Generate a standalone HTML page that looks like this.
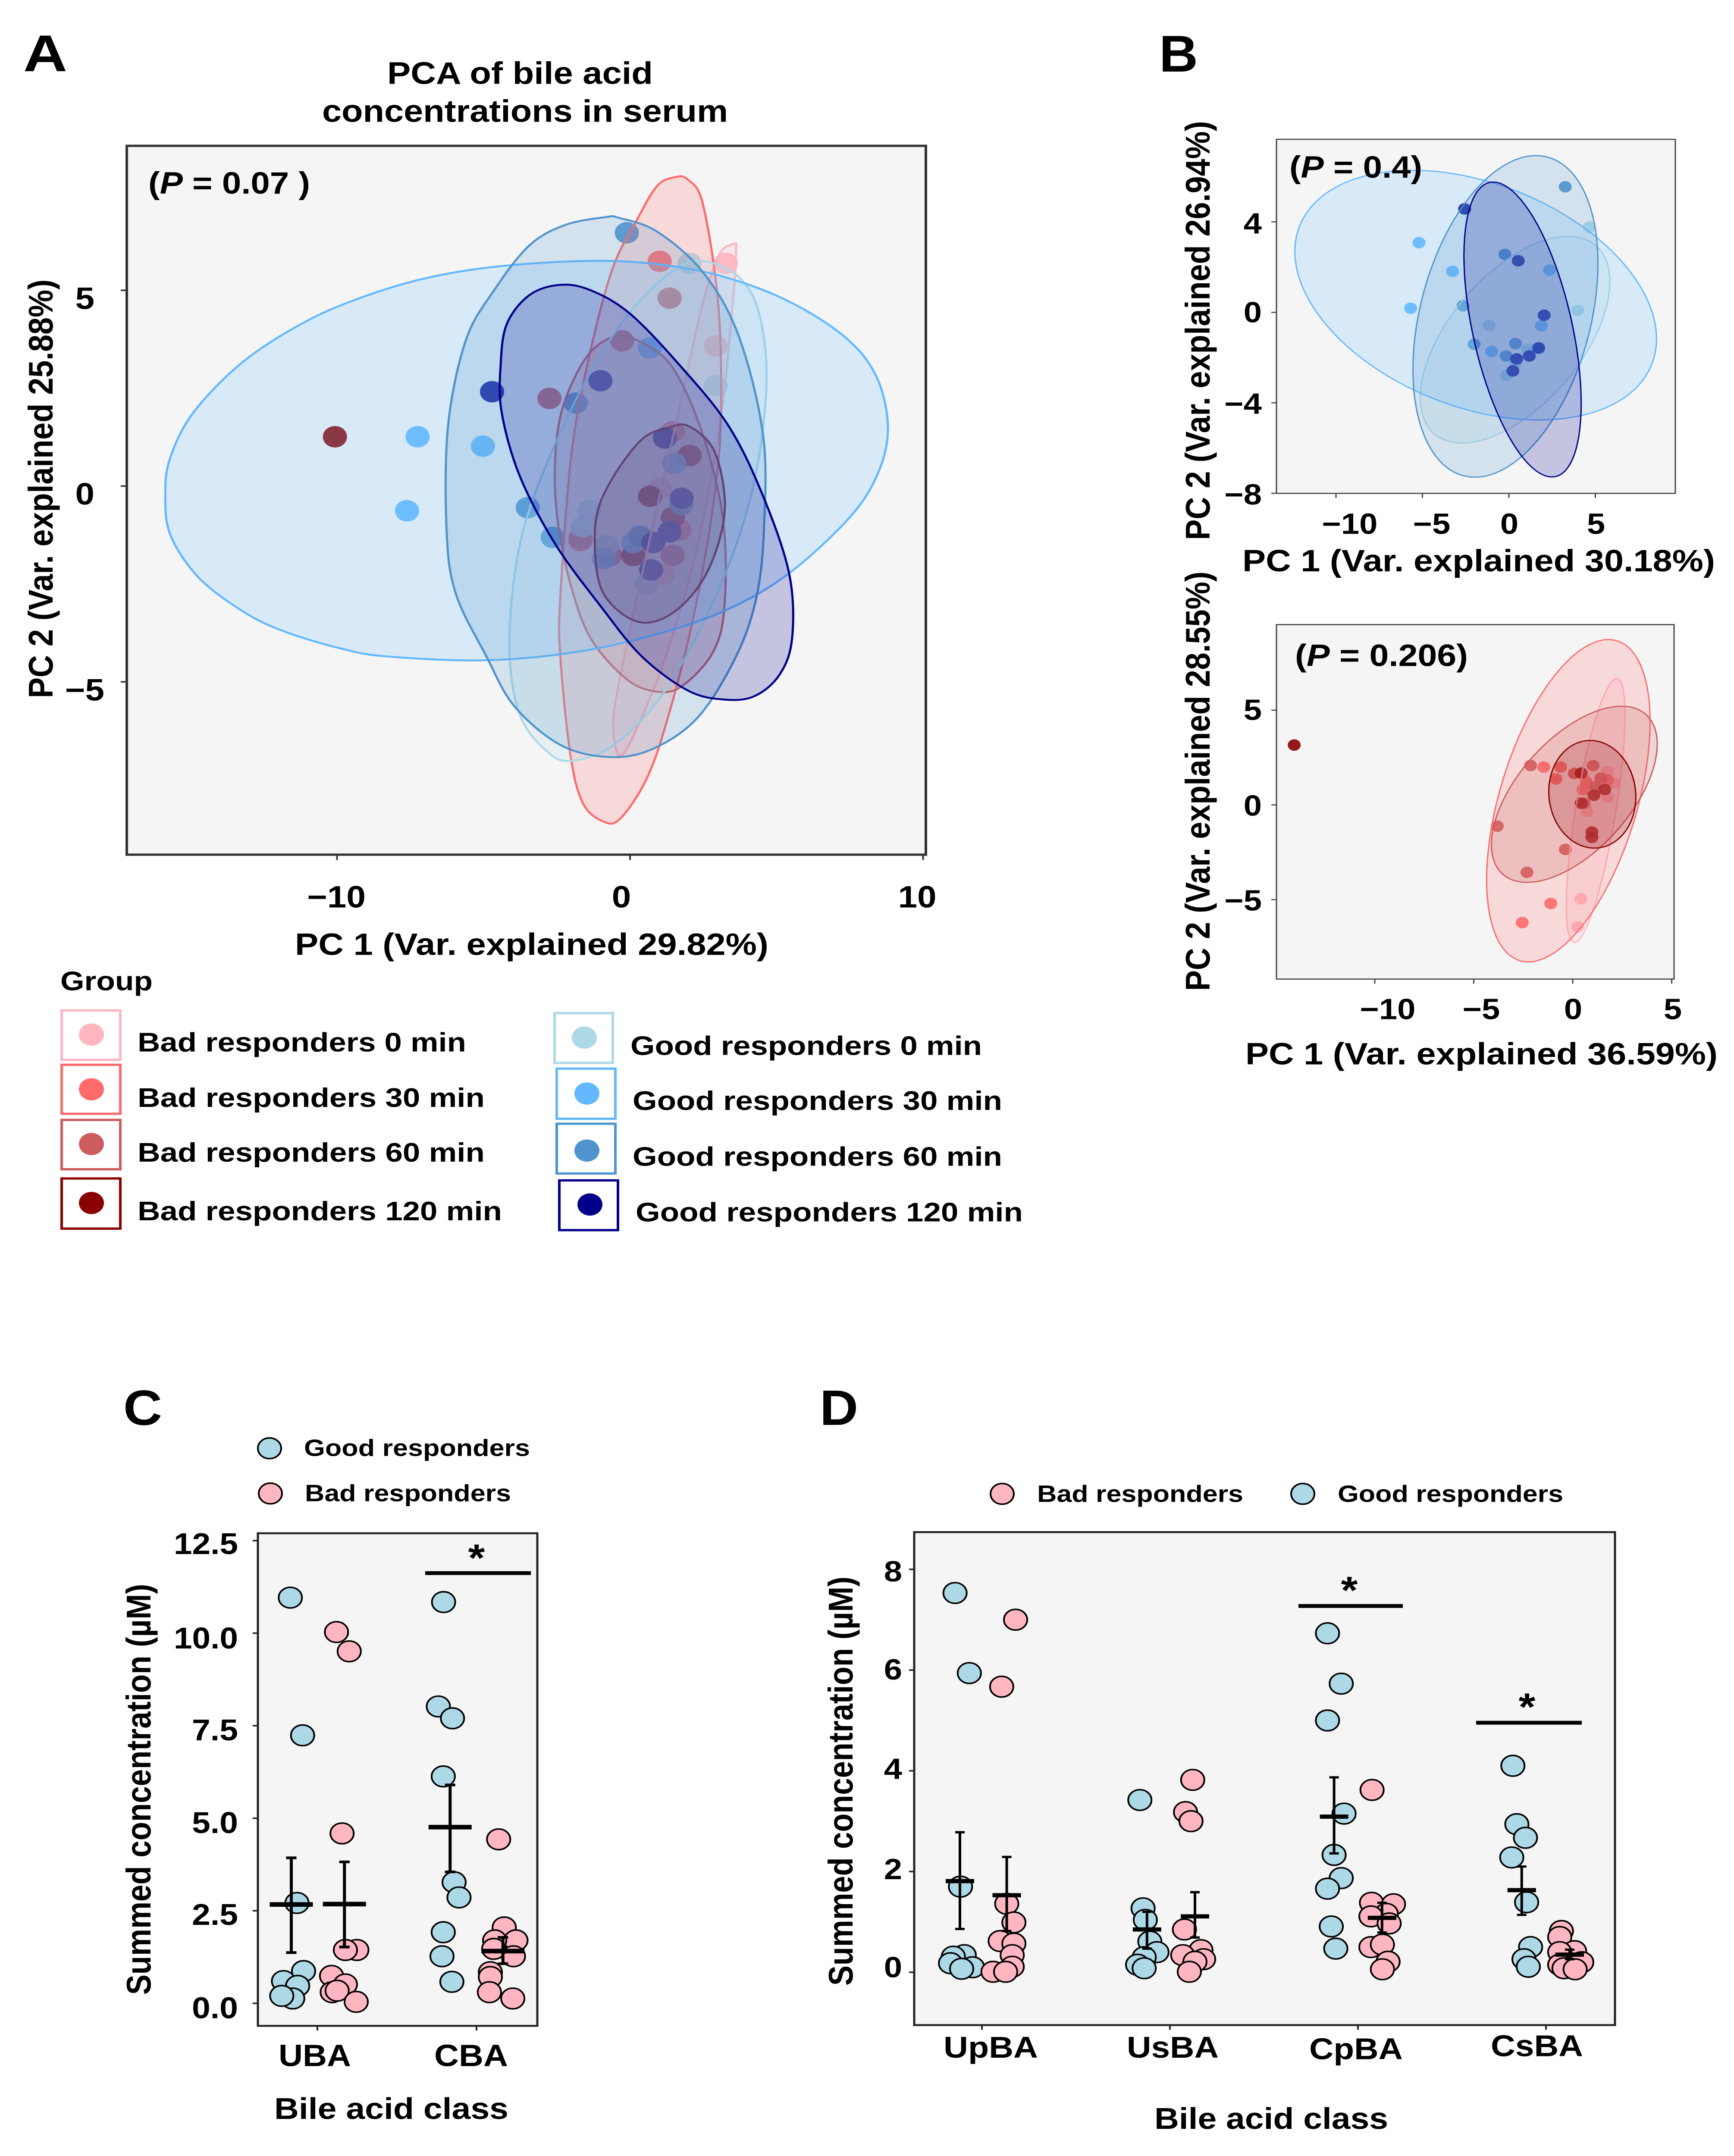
<!DOCTYPE html>
<html lang="en">
<head>
<meta charset="utf-8">
<title>PCA and summed bile acid concentrations</title>
<style>
html,body{margin:0;padding:0;background:#fff;width:100%;height:100%;overflow:hidden;}
svg{display:block;position:absolute;left:0;top:0;width:100vw;height:100vh;}
text{font-family:"Liberation Sans",sans-serif;font-weight:700;fill:#000;}
</style>
</head>
<body>
<svg id="fig" xmlns="http://www.w3.org/2000/svg" viewBox="0 0 4021 5633" preserveAspectRatio="none">
<rect x="0" y="0" width="4021" height="5633" fill="#fff"/>

<g id="panelA">
<text x="54" y="186" font-size="135" textLength="102" lengthAdjust="spacingAndGlyphs">A</text>
<text x="898" y="219" font-size="82" textLength="616" lengthAdjust="spacingAndGlyphs">PCA of bile acid</text>
<text x="747" y="318" font-size="82" textLength="941" lengthAdjust="spacingAndGlyphs">concentrations in serum</text>
<rect x="294" y="381" width="1853" height="1852" fill="#f5f5f5"/>
<g id="aMarks"></g>
<rect x="294" y="381" width="1853" height="1852" fill="none" stroke="#333" stroke-width="6"/>
<g id="aTicks"></g>
<text x="344" y="506" font-size="80" textLength="375" lengthAdjust="spacingAndGlyphs">(<tspan font-style="italic">P</tspan> = 0.07 )</text>
<text x="219" y="807" font-size="80" text-anchor="end">5</text>
<text x="219" y="1318" font-size="80" text-anchor="end">0</text>
<text x="242" y="1830" font-size="80" text-anchor="end">−5</text>
<text x="780" y="2371" font-size="80" text-anchor="middle">−10</text>
<text x="1441" y="2371" font-size="80" text-anchor="middle">0</text>
<text x="2127" y="2371" font-size="80" text-anchor="middle">10</text>
<text x="684" y="2495" font-size="80" textLength="1098" lengthAdjust="spacingAndGlyphs">PC 1 (Var. explained 29.82%)</text>
<text transform="translate(122,1824) rotate(-90)" font-size="80" textLength="1094" lengthAdjust="spacingAndGlyphs">PC 2 (Var. explained 25.88%)</text>
</g>

<g id="legendA">
<text x="140" y="2587" font-size="70" textLength="214" lengthAdjust="spacingAndGlyphs">Group</text>
<g>
<rect x="143" y="2640" width="136" height="129" fill="#fff" stroke="#ffb6c1" stroke-width="6"/>
<circle cx="212" cy="2703" r="29" fill="#ffb6c1"/>
<text x="319" y="2747" font-size="70" textLength="762" lengthAdjust="spacingAndGlyphs">Bad responders 0 min</text>
</g>
<g>
<rect x="143" y="2782" width="136" height="128" fill="#fff" stroke="#ff6a6a" stroke-width="6"/>
<circle cx="212" cy="2846" r="29" fill="#ff6a6a"/>
<text x="319" y="2892" font-size="70" textLength="805" lengthAdjust="spacingAndGlyphs">Bad responders 30 min</text>
</g>
<g>
<rect x="143" y="2926" width="136" height="129" fill="#fff" stroke="#cd5c5c" stroke-width="6"/>
<circle cx="212" cy="2989" r="29" fill="#cd5c5c"/>
<text x="319" y="3035" font-size="70" textLength="805" lengthAdjust="spacingAndGlyphs">Bad responders 60 min</text>
</g>
<g>
<rect x="143" y="3079" width="136" height="131" fill="#fff" stroke="#8b0000" stroke-width="6"/>
<circle cx="212" cy="3143" r="29" fill="#8b0000"/>
<text x="319" y="3188" font-size="70" textLength="845" lengthAdjust="spacingAndGlyphs">Bad responders 120 min</text>
</g>
<g>
<rect x="1286" y="2647" width="135" height="130" fill="#fff" stroke="#add8e6" stroke-width="6"/>
<circle cx="1355" cy="2711" r="29" fill="#add8e6"/>
<text x="1462" y="2756" font-size="70" textLength="815" lengthAdjust="spacingAndGlyphs">Good responders 0 min</text>
</g>
<g>
<rect x="1291" y="2792" width="136" height="131" fill="#fff" stroke="#63b8ff" stroke-width="6"/>
<circle cx="1361" cy="2857" r="29" fill="#63b8ff"/>
<text x="1467" y="2900" font-size="70" textLength="857" lengthAdjust="spacingAndGlyphs">Good responders 30 min</text>
</g>
<g>
<rect x="1291" y="2936" width="136" height="130" fill="#fff" stroke="#4f94cd" stroke-width="6"/>
<circle cx="1361" cy="3006" r="29" fill="#4f94cd"/>
<text x="1467" y="3046" font-size="70" textLength="857" lengthAdjust="spacingAndGlyphs">Good responders 60 min</text>
</g>
<g>
<rect x="1297" y="3084" width="136" height="130" fill="#fff" stroke="#00008b" stroke-width="6"/>
<circle cx="1368" cy="3147" r="29" fill="#00008b"/>
<text x="1474" y="3191" font-size="70" textLength="898" lengthAdjust="spacingAndGlyphs">Good responders 120 min</text>
</g>
</g>

<g id="panelB1">
<text x="2688" y="187" font-size="135" textLength="90" lengthAdjust="spacingAndGlyphs">B</text>
<rect x="2960" y="364" width="925" height="925" fill="#f5f5f5"/>
<g id="b1Marks"></g>
<rect x="2960" y="364" width="925" height="925" fill="none" stroke="#444" stroke-width="3"/>
<g id="b1Ticks"></g>
<text x="2990" y="464" font-size="80" textLength="308" lengthAdjust="spacingAndGlyphs">(<tspan font-style="italic">P</tspan> = 0.4)</text>
<text x="2926" y="610" font-size="76" text-anchor="end">4</text>
<text x="2926" y="842" font-size="76" text-anchor="end">0</text>
<text x="2926" y="1081" font-size="76" text-anchor="end">−4</text>
<text x="2926" y="1318" font-size="76" text-anchor="end">−8</text>
<text x="3130" y="1395" font-size="76" text-anchor="middle">−10</text>
<text x="3320" y="1395" font-size="76" text-anchor="middle">−5</text>
<text x="3500" y="1395" font-size="76" text-anchor="middle">0</text>
<text x="3701" y="1395" font-size="76" text-anchor="middle">5</text>
<text x="2881" y="1493" font-size="80" textLength="1096" lengthAdjust="spacingAndGlyphs">PC 1 (Var. explained 30.18%)</text>
<text transform="translate(2805,1411) rotate(-90)" font-size="80" textLength="1095" lengthAdjust="spacingAndGlyphs">PC 2 (Var. explained 26.94%)</text>
</g>

<g id="panelB2">
<rect x="2960" y="1632" width="922" height="926" fill="#f5f5f5"/>
<g id="b2Marks"></g>
<rect x="2960" y="1632" width="922" height="926" fill="none" stroke="#444" stroke-width="3"/>
<g id="b2Ticks"></g>
<text x="3003" y="1740" font-size="80" textLength="401" lengthAdjust="spacingAndGlyphs">(<tspan font-style="italic">P</tspan> = 0.206)</text>
<text x="2926" y="1881" font-size="76" text-anchor="end">5</text>
<text x="2926" y="2131" font-size="76" text-anchor="end">0</text>
<text x="2926" y="2379" font-size="76" text-anchor="end">−5</text>
<text x="3218" y="2663" font-size="76" text-anchor="middle">−10</text>
<text x="3435" y="2663" font-size="76" text-anchor="middle">−5</text>
<text x="3648" y="2663" font-size="76" text-anchor="middle">0</text>
<text x="3879" y="2663" font-size="76" text-anchor="middle">5</text>
<text x="2888" y="2781" font-size="80" textLength="1095" lengthAdjust="spacingAndGlyphs">PC 1 (Var. explained 36.59%)</text>
<text transform="translate(2805,2589) rotate(-90)" font-size="80" textLength="1096" lengthAdjust="spacingAndGlyphs">PC 2 (Var. explained 28.55%)</text>
</g>

<g id="panelC">
<text x="286" y="3723" font-size="130" textLength="90" lengthAdjust="spacingAndGlyphs">C</text>
<g>
<circle cx="625" cy="3784" r="27" fill="#add8e6" stroke="#000" stroke-width="4"/>
<text x="705" y="3804" font-size="62" textLength="524" lengthAdjust="spacingAndGlyphs">Good responders</text>
</g>
<g>
<circle cx="627" cy="3902" r="27" fill="#ffb6c1" stroke="#000" stroke-width="4"/>
<text x="707" y="3922" font-size="62" textLength="478" lengthAdjust="spacingAndGlyphs">Bad responders</text>
</g>
<rect x="598" y="4006" width="648" height="1287" fill="#f5f5f5"/>
<g id="cMarks"></g>
<rect x="598" y="4006" width="648" height="1287" fill="none" stroke="#222" stroke-width="5"/>
<g id="cTicks"></g>
<line x1="986" y1="4110" x2="1231" y2="4110" stroke="#000" stroke-width="10"/>
<text x="1105" y="4105" font-size="100" text-anchor="middle">*</text>
<text x="552" y="4060" font-size="78" text-anchor="end" textLength="149" lengthAdjust="spacingAndGlyphs">12.5</text>
<text x="552" y="4307" font-size="78" text-anchor="end" textLength="149" lengthAdjust="spacingAndGlyphs">10.0</text>
<text x="552" y="4547" font-size="78" text-anchor="end" textLength="107" lengthAdjust="spacingAndGlyphs">7.5</text>
<text x="552" y="4789" font-size="78" text-anchor="end" textLength="107" lengthAdjust="spacingAndGlyphs">5.0</text>
<text x="552" y="5029" font-size="78" text-anchor="end" textLength="107" lengthAdjust="spacingAndGlyphs">2.5</text>
<text x="552" y="5273" font-size="78" text-anchor="end" textLength="107" lengthAdjust="spacingAndGlyphs">0.0</text>
<text x="646" y="5398" font-size="80" textLength="168" lengthAdjust="spacingAndGlyphs">UBA</text>
<text x="1007" y="5398" font-size="80" textLength="171" lengthAdjust="spacingAndGlyphs">CBA</text>
<text x="636" y="5536" font-size="78" textLength="543" lengthAdjust="spacingAndGlyphs">Bile acid class</text>
<text transform="translate(349,5212) rotate(-90)" font-size="80" textLength="1074" lengthAdjust="spacingAndGlyphs">Summed concentration (µM)</text>
</g>

<g id="panelD">
<text x="1901" y="3723" font-size="130" textLength="89" lengthAdjust="spacingAndGlyphs">D</text>
<g>
<circle cx="2324" cy="3903" r="27" fill="#ffb6c1" stroke="#000" stroke-width="4"/>
<text x="2405" y="3924" font-size="62" textLength="478" lengthAdjust="spacingAndGlyphs">Bad responders</text>
</g>
<g>
<circle cx="3021" cy="3903" r="27" fill="#add8e6" stroke="#000" stroke-width="4"/>
<text x="3102" y="3924" font-size="62" textLength="523" lengthAdjust="spacingAndGlyphs">Good responders</text>
</g>
<rect x="2120" y="4003" width="1625" height="1288" fill="#f5f5f5"/>
<g id="dMarks"></g>
<rect x="2120" y="4003" width="1625" height="1288" fill="none" stroke="#222" stroke-width="5"/>
<g id="dTicks"></g>
<line x1="3011" y1="4196" x2="3253" y2="4196" stroke="#000" stroke-width="10"/>
<text x="3129" y="4189" font-size="100" text-anchor="middle">*</text>
<line x1="3423" y1="4501" x2="3668" y2="4501" stroke="#000" stroke-width="10"/>
<text x="3541" y="4494" font-size="100" text-anchor="middle">*</text>
<text x="2092" y="4132" font-size="76" text-anchor="end">8</text>
<text x="2092" y="4388" font-size="76" text-anchor="end">6</text>
<text x="2092" y="4648" font-size="76" text-anchor="end">4</text>
<text x="2092" y="4910" font-size="76" text-anchor="end">2</text>
<text x="2092" y="5166" font-size="76" text-anchor="end">0</text>
<text x="2188" y="5376" font-size="78" textLength="219" lengthAdjust="spacingAndGlyphs">UpBA</text>
<text x="2613" y="5376" font-size="78" textLength="213" lengthAdjust="spacingAndGlyphs">UsBA</text>
<text x="3036" y="5380" font-size="78" textLength="217" lengthAdjust="spacingAndGlyphs">CpBA</text>
<text x="3457" y="5372" font-size="78" textLength="214" lengthAdjust="spacingAndGlyphs">CsBA</text>
<text x="2677" y="5562" font-size="78" textLength="542" lengthAdjust="spacingAndGlyphs">Bile acid class</text>
<text transform="translate(1977,5188) rotate(-90)" font-size="80" textLength="1069" lengthAdjust="spacingAndGlyphs">Summed concentration (µM)</text>
</g>
</svg>

<script>
// Group order and colours
const groupNames = ['bad-0','bad-30','bad-60','bad-120','good-0','good-30','good-60','good-120'];
const groupColors = ['#ffb6c1','#ff6a6a','#cd5c5c','#8b0000','#add8e6','#63b8ff','#4f94cd','#00008b'];

// Panel A: scores (PC1, PC2)
const aBad0X = [3.27,2.93,1.01,1.13];
const aBad0Y = [5.69,3.58,-0.06,-2.25];
const aBad30X = [1.01,1.46,1.69,-1.69];
const aBad30Y = [5.74,1.39,-1.12,-1.4];
const aBad60X = [-0.27,-2.75,1.35,-1.69,-0.68,1.46];
const aBad60Y = [3.71,2.24,4.8,-1.33,-1.77,-1.77];
const aBad120X = [-10.07,2.03,0.68,0.11,1.46];
const aBad120Y = [1.26,0.78,-0.26,-1.77,-0.8];
const aGood0X = [2.03,2.93,-1.4,-1.62,-0.79,0.56];
const aGood0Y = [5.69,2.56,-0.63,-1.04,-1.52,-2.5];
const aGood30X = [-7.25,-5.02,-7.61,0.68,1.51,0.11,-0.9];
const aGood30Y = [1.26,1.02,-0.63,3.53,0.58,-1.44,-1.85];
const aGood60X = [-0.11,-3.49,-2.64,-1.85,1.76,0.34];
const aGood60Y = [6.47,-0.55,-1.31,2.12,-0.47,-1.28];
const aGood120X = [-4.71,-1.01,1.19,1.76,1.35,0.72,0.79];
const aGood120Y = [2.41,2.69,1.23,-0.31,-1.17,-2.14,-1.44];

// Panel A: confidence region outlines in PC units
const aOutlineBad0X = [3.53,3.01,2.4,1.62,0.23,-0.47,-0.56,-0.33,0.23,1.27,2.31,3.1,3.53,3.62];
const aOutlineBad0Y = [6.18,5.87,4.42,1.77,-2.85,-5.39,-6.32,-6.89,-6.2,-4.24,-1.47,1.77,4.88,6.04];
const aOutlineBad30X = [1.53,0.92,0.23,-0.64,-1.51,-2.03,-2.38,-2.38,-2.03,-1.6,-0.9,-0.33,0.57,1.27,2.14,2.83,3.1,3.01,2.49,1.97];
const aOutlineBad30Y = [7.89,7.66,6.79,5.46,2.92,0.61,-2.85,-4.35,-6.89,-8.11,-8.57,-8.49,-7.47,-5.97,-3.43,-0.54,1.77,4.65,7.19,7.83];
const aOutlineBad60X = [-2.56,-2.3,-1.51,-0.64,0.23,1.44,2.49,3.18,3.22,2.83,1.79,0.92,-0.12,-1.34,-2.03,-2.47];
const aOutlineBad60Y = [0.61,2.0,3.27,3.79,3.73,3.04,1.3,-0.89,-3.08,-4.24,-5.1,-5.25,-4.93,-3.89,-2.51,-0.89];
const aOutlineBad120X = [-1.17,-0.64,0.4,1.27,1.97,2.83,3.22,3.1,2.49,1.53,0.49,-0.47,-1.08];
const aOutlineBad120Y = [-0.89,0.15,1.19,1.48,1.54,0.96,-0.2,-1.24,-2.39,-3.2,-3.49,-3.14,-2.39];
const aOutlineGood0X = [2.49,1.62,0.23,-1.17,-2.56,-3.6,-4.03,-4.09,-3.69,-2.73,-1.95,-0.64,0.92,2.31,3.53,4.31,4.66,4.4,3.7];
const aOutlineGood0Y = [5.75,5.58,4.65,3.15,1.07,-1.0,-2.85,-4.58,-5.97,-6.84,-7.01,-6.66,-5.51,-3.78,-1.7,0.38,2.69,4.42,5.35];
const aOutlineGood30X = [-15.86,-15.69,-14.9,-13.25,-11.25,-9.34,-7.08,-4.64,-1.51,0.92,3.18,5.44,7.36,8.4,8.8,8.49,7.53,5.44,3.36,0.92,-1.86,-4.99,-8.3,-9.86,-11.77,-13.17,-14.73,-15.69];
const aOutlineGood30Y = [-0.2,0.73,1.88,3.15,4.13,4.77,5.29,5.6,5.75,5.67,5.35,4.71,3.79,2.81,1.54,0.38,-0.77,-2.22,-3.14,-3.78,-4.24,-4.45,-4.35,-4.15,-3.72,-3.22,-2.33,-1.24];
const aOutlineGood60X = [-0.82,-2.21,-3.43,-4.64,-5.6,-6.21,-6.26,-5.95,-4.9,-3.95,-2.38,-0.73,0.75,2.31,3.62,4.31,4.57,4.54,3.7,2.49,0.92,-0.38];
const aOutlineGood60Y = [6.87,6.67,6.15,5.0,3.73,1.54,-1.12,-2.74,-4.35,-5.62,-6.61,-6.92,-6.72,-5.91,-4.35,-2.85,-1.12,1.3,3.85,5.46,6.5,6.85];
const aOutlineGood120X = [-4.42,-4.21,-3.43,-2.38,-1.34,-0.03,1.62,3.36,4.57,5.44,5.53,5.1,4.23,3.18,1.97,0.4,-0.99,-2.56,-3.77,-4.38];
const aOutlineGood120Y = [3.04,4.13,4.88,5.14,5.0,4.42,3.15,1.54,-0.31,-2.27,-3.89,-4.82,-5.37,-5.45,-5.22,-4.35,-3.08,-1.47,0.27,1.88];
const aXTicks = [-10,0,10];
const aYTicks = [-5,0,5];

// Panel B top: good responders
const b1Good0X = [4.66,3.98,-1.13,-0.16,1.09,0.41];
const b1Good0Y = [3.77,0.08,-0.57,-2.79,-1.65,-2.22];
const b1Good30X = [-5.2,-3.26,-5.68,2.35,1.88,-1.0];
const b1Good30Y = [3.08,1.81,0.18,1.86,-0.6,-1.73];
const b1Good60X = [3.26,-0.23,-2.65,-2.01,0.38,-0.16,1.72];
const b1Good60Y = [5.55,2.56,0.29,-1.41,-1.38,-1.93,-1.6];
const b1Good120X = [-2.56,0.54,2.04,0.45,1.18,0.23,1.72];
const b1Good120Y = [4.57,2.28,-0.13,-2.06,-1.93,-2.59,-1.57];
const b1EllipseCx = [0.36,-1.92,-0.2,0.79];
const b1EllipseCy = [-1.21,0.76,-0.18,-0.76];
const b1EllipseSx = [5.48,10.46,5.35,3.39];
const b1EllipseSy = [4.57,5.52,7.11,6.52];
const b1EllipseRho = [0.56,-0.35,0.33,-0.5];
const b1XTicks = [-10,-5,0,5];
const b1YTicks = [-8,-4,0,4];

// Panel B bottom: bad responders
const b2Bad0X = [0.41,0.24,0.73,1.76,1.76,2.05];
const b2Bad0Y = [-4.96,-6.44,-0.34,1.77,0.42,1.17];
const b2Bad30X = [-1.46,-0.61,-0.85,-1.11,-2.55,0.67,1.76,0.53];
const b2Bad30Y = [2.0,2.0,1.37,-5.2,-6.21,1.23,1.32,0.81];
const b2Bad60X = [-2.13,-3.81,-0.37,-2.31,0.08,1.03,1.42,0.57,1.16];
const b2Bad60Y = [2.08,-1.12,-2.35,-3.56,1.66,2.08,1.41,0.09,0.96];
const b2Bad120X = [-14.07,0.43,1.07,1.62,0.97,0.97,0.43];
const b2Bad120Y = [3.16,1.68,0.51,0.81,-1.43,-1.71,0.09];
const b2EllipseCx = [1.16,-0.22,0.08,0.99];
const b2EllipseCy = [-0.29,0.22,0.56,0.56];
const b2EllipseSx = [1.48,4.13,4.19,2.2];
const b2EllipseSy = [6.97,8.51,4.65,2.84];
const b2EllipseRho = [0.72,0.49,0.57,-0.05];
const b2XTicks = [-10,-5,0,5];
const b2YTicks = [-5,0,5];

// Panel C: jittered positions (category units) and concentrations
const cGoodX = [-0.17,-0.093,-0.128,-0.087,-0.213,-0.124,-0.155,-0.224,0.793,0.76,0.849,0.791,0.859,0.89,0.791,0.783,0.845];
const cGoodY = [10.96,7.24,2.71,0.87,0.6,0.47,0.13,0.2,10.84,8.02,7.7,6.13,3.27,2.86,1.92,1.27,0.58];
const cBadX = [0.12,0.2,0.155,0.248,0.176,0.089,0.176,0.093,0.124,0.244,1.139,1.174,1.248,1.114,1.232,1.108,1.087,1.087,1.081,1.228];
const cBadY = [10.03,9.51,4.59,1.44,1.44,0.74,0.51,0.3,0.34,0.04,4.43,2.05,1.7,1.7,1.27,1.47,0.84,0.71,0.3,0.13];
const cStatX = [-0.164,0.17,0.834,1.166];
const cStatMean = [2.67,2.68,4.76,1.41];
const cStatHigh = [3.93,3.82,5.9,1.78];
const cStatLow = [1.37,1.52,3.55,1.07];
const cCategories = [0,1];
const cYTicks = [0,2.5,5,7.5,10,12.5];

// Panel D
const dGoodX = [-0.143,-0.067,-0.114,-0.094,-0.152,-0.167,-0.05,-0.108,0.84,0.857,0.869,0.893,0.931,0.863,0.828,0.863,1.838,1.911,1.838,1.926,1.873,1.911,1.838,1.858,1.882,2.824,2.845,2.891,2.818,2.897,2.918,2.883,2.906];
const dGoodY = [7.53,5.94,1.7,0.34,0.31,0.18,0.1,0.07,3.42,1.27,1.04,0.61,0.4,0.3,0.15,0.08,6.73,5.73,5.0,3.15,2.33,1.87,1.66,0.91,0.47,4.1,2.94,2.67,2.28,1.39,0.5,0.26,0.11];
const dBadX = [0.179,0.105,0.132,0.17,0.097,0.17,0.161,0.161,0.059,0.126,1.121,1.083,1.112,1.077,1.165,1.068,1.179,1.133,1.103,2.075,2.072,2.189,2.151,2.069,2.166,2.069,2.13,2.16,2.13,3.082,3.073,3.152,3.073,3.19,3.073,3.096,3.155];
const dBadY = [7.0,5.67,1.36,0.99,0.62,0.57,0.34,0.11,0.01,0.01,3.82,3.18,3.0,0.85,0.44,0.34,0.26,0.21,0.01,3.62,1.38,1.35,1.16,1.11,0.97,0.5,0.55,0.21,0.06,0.82,0.7,0.42,0.4,0.2,0.15,0.08,0.06];
const dStatX = [-0.117,0.132,0.878,1.133,1.873,2.128,2.871,3.126];
const dStatMean = [1.81,1.53,0.85,1.11,3.09,1.08,1.63,0.35];
const dStatHigh = [2.78,2.29,1.2,1.59,3.87,1.38,2.1,0.45];
const dStatLow = [0.86,0.82,0.47,0.69,2.36,0.79,1.14,0.26];
const dCategories = [0,1,2,3];
const dYTicks = [0,2,4,6,8];

const NS = 'http://www.w3.org/2000/svg';
function make(tag, parentId, attrs) {
  const el = document.createElementNS(NS, tag);
  for (const k in attrs) el.setAttribute(k, attrs[k]);
  document.getElementById(parentId).appendChild(el);
  return el;
}

// Axis functions
const axA = v => 1461 + 67.95 * v;
const ayA = v => 1270 - 102.3 * v;
const axB1 = v => 3499 + 40.1 * v;
const ayB1 = v => 816 - 59.1 * v;
const axB2 = v => 3647 + 45.9 * v;
const ayB2 = v => 2103 - 49.5 * v;
const axC = v => 736 + 369 * v;
const ayC = v => 5234 - 96.7 * v;
const axD = v => 2277 + 436 * v;
const ayD = v => 5153 - 131.6 * v;

function drawPoints(parent, xs, ys, ax, ay, color, r, opacity) {
  xs.forEach((x, i) => {
    const c = make('circle', parent, {cx: ax(x), cy: ay(ys[i]), r: r, fill: color, 'fill-opacity': opacity});
    
    
  });
}

// Closed Catmull-Rom curve through an outline given in data units
function drawOutline(parent, xs, ys, colorIdx, ax, ay, lw) {
  const n = xs.length;
  const px = i => ax(xs[(i + n) % n]);
  const py = i => ay(ys[(i + n) % n]);
  let d = 'M' + px(0).toFixed(1) + ' ' + py(0).toFixed(1);
  for (let i = 0; i < n; i++) {
    const c1x = px(i) + (px(i + 1) - px(i - 1)) / 6;
    const c1y = py(i) + (py(i + 1) - py(i - 1)) / 6;
    const c2x = px(i + 1) - (px(i + 2) - px(i)) / 6;
    const c2y = py(i + 1) - (py(i + 2) - py(i)) / 6;
    d += 'C' + c1x.toFixed(1) + ' ' + c1y.toFixed(1) + ' ' + c2x.toFixed(1) + ' ' + c2y.toFixed(1) + ' ' + px(i + 1).toFixed(1) + ' ' + py(i + 1).toFixed(1);
  }
  d += 'Z';
  const color = groupColors[colorIdx];
  const p = make('path', parent, {d: d, fill: color, 'fill-opacity': 0.2, stroke: color, 'stroke-width': lw});
  
  
}

function drawEllipses(parent, cxs, cys, sxs, sys, rhos, colorIdx, ax, ay, lw) {
  cxs.forEach((cx, i) => {
    const phase = Math.acos(rhos[i]);
    let d = '';
    for (let deg = 0; deg < 360; deg += 4) {
      const t = deg * Math.PI / 180;
      const px = ax(cx + sxs[i] * Math.cos(t));
      const py = ay(cys[i] + sys[i] * Math.cos(t - phase));
      d += (deg === 0 ? 'M' : 'L') + px.toFixed(1) + ' ' + py.toFixed(1);
    }
    d += 'Z';
    const color = groupColors[colorIdx[i]];
    const p = make('path', parent, {d: d, fill: color, 'fill-opacity': 0.2, stroke: color, 'stroke-width': lw});
    
    
  });
}

function drawTicks(parent, xTicks, yTicks, ax, ay, left, bottom, len, lw, color) {
  xTicks.forEach(v => {
    const t = make('line', parent, {x1: ax(v), x2: ax(v), y1: bottom, y2: bottom + len, stroke: color, 'stroke-width': lw});
    
    
  });
  yTicks.forEach(v => {
    const t = make('line', parent, {x1: left - len, x2: left, y1: ay(v), y2: ay(v), stroke: color, 'stroke-width': lw});
    
    
  });
}

function drawSwarm(parent, xs, ys, ax, ay, color) {
  xs.forEach((x, i) => {
    const c = make('circle', parent, {cx: ax(x), cy: ay(ys[i]), r: 27, fill: color, stroke: '#000', 'stroke-width': 4});
    
    
  });
}

function drawStats(parent, xs, means, highs, lows, ax, ay, half, cap, lw, hw) {
  xs.forEach((x, i) => {
    const px = ax(x);
    const v = make('line', parent, {x1: px, x2: px, y1: ay(highs[i]), y2: ay(lows[i]), stroke: '#000', 'stroke-width': lw});
    
    
    [highs[i], lows[i]].forEach(val => {
      const c = make('line', parent, {x1: px - cap, x2: px + cap, y1: ay(val), y2: ay(val), stroke: '#000', 'stroke-width': lw});
      
      
    });
    const m = make('line', parent, {x1: px - half, x2: px + half, y1: ay(means[i]), y2: ay(means[i]), stroke: '#000', 'stroke-width': hw});
    
    
  });
}

// Panel A
[[aBad0X,aBad0Y,0],[aBad30X,aBad30Y,1],[aBad60X,aBad60Y,2],[aBad120X,aBad120Y,3],
 [aGood0X,aGood0Y,4],[aGood30X,aGood30Y,5],[aGood60X,aGood60Y,6],[aGood120X,aGood120Y,7]]
  .forEach(s => drawPoints('aMarks', s[0], s[1], axA, ayA, groupColors[s[2]], 28, 0.9));
[[aOutlineBad0X,aOutlineBad0Y,0],[aOutlineBad30X,aOutlineBad30Y,1],[aOutlineBad60X,aOutlineBad60Y,2],[aOutlineBad120X,aOutlineBad120Y,3],
 [aOutlineGood0X,aOutlineGood0Y,4],[aOutlineGood30X,aOutlineGood30Y,5],[aOutlineGood60X,aOutlineGood60Y,6],[aOutlineGood120X,aOutlineGood120Y,7]]
  .forEach(s => drawOutline('aMarks', s[0], s[1], s[2], axA, ayA, 5));
drawTicks('aTicks', aXTicks, aYTicks, axA, ayA, 294, 2233, 14, 4, '#333');

// Panel B top
[[b1Good0X,b1Good0Y,4],[b1Good30X,b1Good30Y,5],[b1Good60X,b1Good60Y,6],[b1Good120X,b1Good120Y,7]]
  .forEach(s => drawPoints('b1Marks', s[0], s[1], axB1, ayB1, groupColors[s[2]], 15, 0.9));
drawEllipses('b1Marks', b1EllipseCx, b1EllipseCy, b1EllipseSx, b1EllipseSy, b1EllipseRho, [4,5,6,7], axB1, ayB1, 3);
drawTicks('b1Ticks', b1XTicks, b1YTicks, axB1, ayB1, 2960, 1289, 12, 3, '#444');

// Panel B bottom
[[b2Bad0X,b2Bad0Y,0],[b2Bad30X,b2Bad30Y,1],[b2Bad60X,b2Bad60Y,2],[b2Bad120X,b2Bad120Y,3]]
  .forEach(s => drawPoints('b2Marks', s[0], s[1], axB2, ayB2, groupColors[s[2]], 15, 0.9));
drawEllipses('b2Marks', b2EllipseCx, b2EllipseCy, b2EllipseSx, b2EllipseSy, b2EllipseRho, [0,1,2,3], axB2, ayB2, 3);
drawTicks('b2Ticks', b2XTicks, b2YTicks, axB2, ayB2, 2960, 2558, 12, 3, '#444');

// Panel C
drawSwarm('cMarks', cGoodX, cGoodY, axC, ayC, '#add8e6');
drawSwarm('cMarks', cBadX, cBadY, axC, ayC, '#ffb6c1');
drawStats('cMarks', cStatX, cStatMean, cStatHigh, cStatLow, axC, ayC, 50, 12, 7, 12);
drawTicks('cTicks', cCategories, cYTicks, axC, ayC, 598, 5293, 12, 4, '#222');

// Panel D
drawSwarm('dMarks', dGoodX, dGoodY, axD, ayD, '#add8e6');
drawSwarm('dMarks', dBadX, dBadY, axD, ayD, '#ffb6c1');
drawStats('dMarks', dStatX, dStatMean, dStatHigh, dStatLow, axD, ayD, 33, 11, 6, 11);
drawTicks('dTicks', dCategories, dYTicks, axD, ayD, 2120, 5291, 12, 4, '#222');
</script>
</body>
</html>
